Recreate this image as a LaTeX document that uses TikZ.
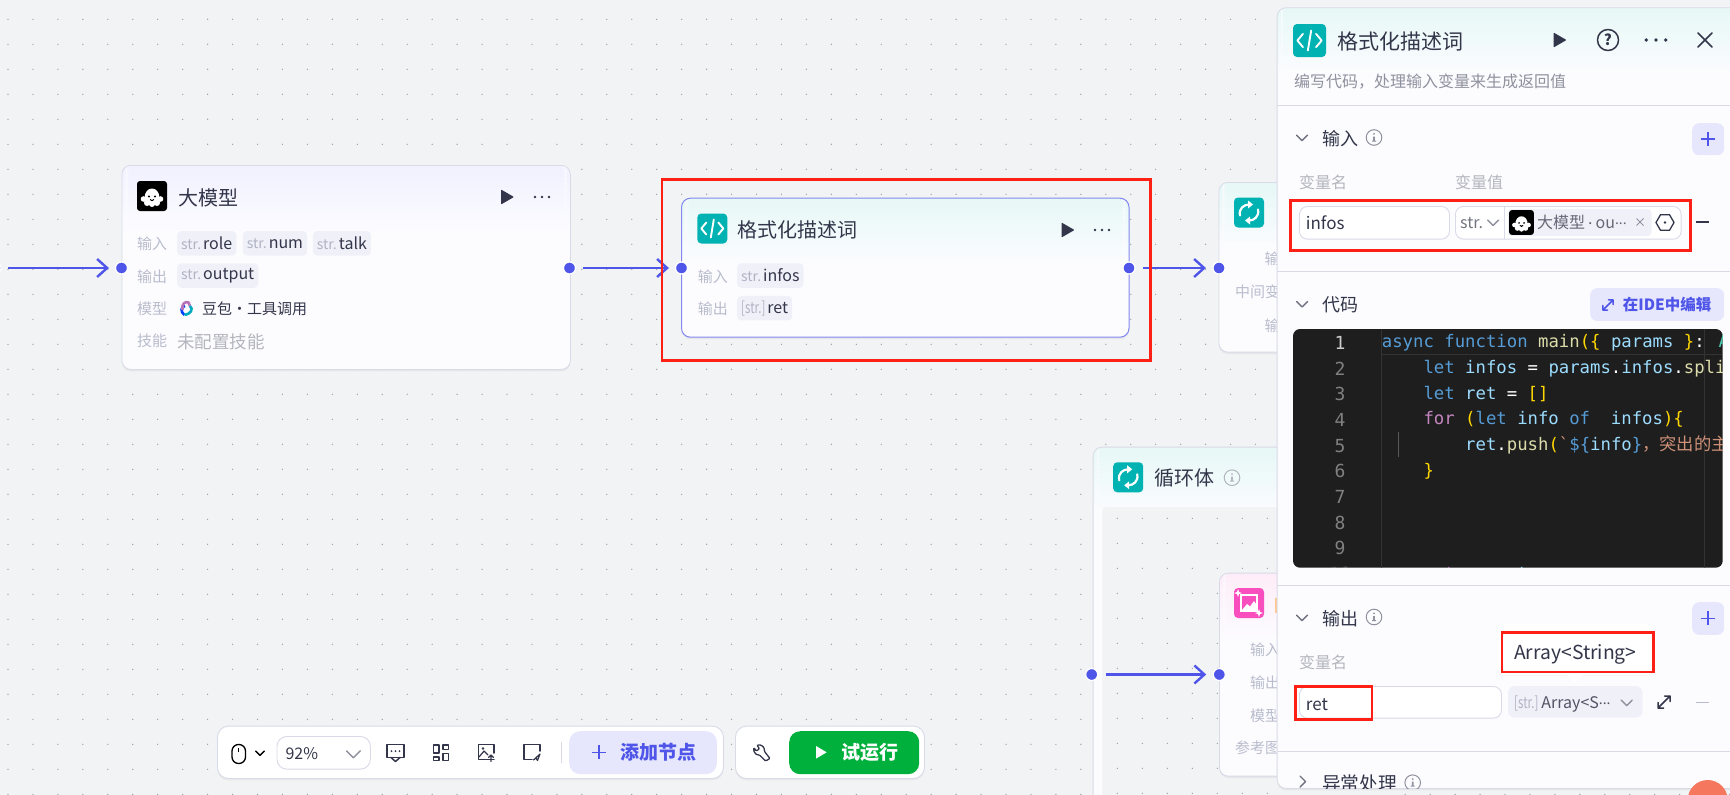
\documentclass[tikz,border=0pt]{standalone}
\usepackage{fontspec}
\usepackage{graphicx}
\setmainfont{Noto Sans CJK SC}
\newfontfamily\codefont{DejaVu Sans Mono}
\newfontfamily\cjkfont{Noto Sans CJK SC}
\usetikzlibrary{arrows.meta,shadows}
\definecolor{canvasbg}{HTML}{F2F3F5}
\definecolor{griddot}{HTML}{9C9EA6}
\definecolor{cardline}{HTML}{D9DAE8}
\definecolor{cardfill}{HTML}{FCFCFF}
\definecolor{portblue}{HTML}{4E55E8}
\definecolor{inkdark}{HTML}{33364A}
\definecolor{lblgrey}{HTML}{B9BCCC}
\definecolor{mutedgrey}{HTML}{B4B5BD}
\definecolor{subgrey}{HTML}{8F919E}
\definecolor{strgrey}{HTML}{B0B3C4}
\definecolor{chipfill}{HTML}{F0F0F8}
\definecolor{softblue}{HTML}{E6E7FD}
\definecolor{lilachead}{HTML}{F1F1FF}
\definecolor{tealhead}{HTML}{E6F8F6}
\definecolor{pinkhead}{HTML}{FDEDF8}
\definecolor{teal}{HTML}{00B2B2}
\definecolor{magenta}{HTML}{F94FBE}
\definecolor{markred}{HTML}{FF2015}
\definecolor{runfill}{HTML}{00B03C}
\definecolor{avatarfill}{HTML}{F4775E}
\definecolor{codebg}{HTML}{1E1E1E}
\definecolor{codeline}{HTML}{333333}
\newcommand{\strtag}[1]{{\fontsize{14}{14}\selectfont\textcolor{strgrey}{#1}}\hspace{2pt}}
\newcommand{\arrtag}{\scalebox{.72}[1]{\fontsize{16}{16}\selectfont\textcolor{strgrey}{[str.]}}\hspace{2pt}}
\newcommand{\mdots}{\raisebox{3.6pt}{\fontsize{14}{14}\selectfont...}}
\newcommand{\ckw}[1]{\textcolor[HTML]{569CD6}{#1}}
\newcommand{\cvr}[1]{\textcolor[HTML]{9CDCFE}{#1}}
\newcommand{\cfn}[1]{\textcolor[HTML]{DCDCAA}{#1}}
\newcommand{\cbr}[1]{\textcolor[HTML]{FFD700}{#1}}
\newcommand{\cpk}[1]{\textcolor[HTML]{C586C0}{#1}}
\newcommand{\cst}[1]{\textcolor[HTML]{CE9178}{#1}}
\newcommand{\cty}[1]{\textcolor[HTML]{4EC9B0}{#1}}
\tikzset{
  txt/.style={font=\fontsize{#1}{#1}\selectfont, text height=.88*#1, text depth=.12*#1, anchor=west, inner sep=0pt},
  lbl/.style={txt=15, text=lblgrey},
  title/.style={txt=20, text=inkdark},
  head/.style={txt=18, text=inkdark},
  muted/.style={txt=16, text=mutedgrey},
  chip/.style={fill=chipfill, rounded corners=4pt, anchor=west, inner xsep=4pt, inner ysep=0pt, minimum height=24.5pt, text=inkdark, font=\fontsize{16}{16}\selectfont},
  port/.style={shape=circle, fill=portblue, draw=white, line width=1.2pt, minimum size=12pt, inner sep=0pt},
  conn/.style={-{Straight Barb[length=10pt,width=18pt,line width=2.4pt]}, line width=2.3pt, draw=portblue},
  card/.style={draw=cardline, line width=.8pt, fill=cardfill, rounded corners=9pt, anchor=north west, inner sep=0pt,
    drop shadow={opacity=.10, shadow xshift=0pt, shadow yshift=-2pt},
    path picture={\foreach \k [evaluate=\k as \mix using 100-3*\k] in {0,...,33}
      \fill[#1!\mix!cardfill] ([yshift={-2*\k*1pt}]path picture bounding box.north west) rectangle ([yshift={-(2*\k+2.6)*1pt}]path picture bounding box.north east);}},
  field/.style={draw=cardline, line width=.9pt, fill=white, rounded corners=8pt, anchor=north west, inner sep=0pt},
  softbtn/.style={fill=softblue, rounded corners=7pt, anchor=north west, inner sep=0pt},
  redbox/.style={draw=markred, line width=2.5pt, anchor=north west, inner sep=0pt},
  sepline/.style={draw=cardline, line width=.9pt},
  codeln/.style={font=\codefont\fontsize{17.3}{17.3}\selectfont, anchor=base west, inner sep=0pt, text=white},
  lineno/.style={font=\codefont\fontsize{18}{18}\selectfont, anchor=base, inner sep=0pt, text=gray},
  ic/.style={draw=inkdark, line width=1.5pt, line cap=round, line join=round},
  play/.pic={\fill[inkdark, rounded corners=.8pt] (-6.5,-7.5) -- (6.5,0) -- (-6.5,7.5) -- cycle;},
  tridots/.pic={\fill[inkdark] (-7,0) circle (1.3) (0,0) circle (1.3) (7,0) circle (1.3);},
  vee/.pic={\draw[line width=1.4pt, line cap=round, line join=round, draw=#1] (-5.5,-2.5) -- (0,3) -- (5.5,-2.5);},
  info/.pic={\draw[draw=#1, line width=1pt] (0,0) circle (7.8);
    \fill[#1] (0,-3.6) circle (1) (-.8,-1) rectangle (.8,3.4) (-2,3) rectangle (2,4);},
  ghost/.pic={\fill[black, rounded corners=3pt] (-15,-15) rectangle (15,15);
    \fill[white] (-7.5,3) .. controls (-8,-11) and (8,-11) .. (7.5,3) -- (7.5,7) -- (-7.5,7) -- cycle;
    \fill[white] (-8.5,3) circle (2.8) (8.5,3) circle (2.8) (-5,7) circle (3) (0,8) circle (3) (5,7) circle (3);
    \fill[black] (-3,.5) circle (1.1) (3,.5) circle (1.1);
    \draw[black, line width=1pt] (-2,3.5) .. controls (-1,5) and (1,5) .. (2,3.5);},
  codeicon/.pic={\fill[teal, rounded corners=4pt] (-15,-15) rectangle (15,15);
    \draw[white, line width=1.9pt, line cap=round, line join=round] (-6,-6) -- (-11,0) -- (-6,6) (6,-6) -- (11,0) -- (6,6) (1.5,-9) -- (-1.5,9);},
  loopicon/.pic={\fill[teal, rounded corners=4pt] (-15,-15) rectangle (15,15);
    \draw[white, line width=2.2pt, line cap=round] (-9,3) .. controls (-10.5,-4) and (-5,-8) .. (0,-8);
    \draw[white, line width=2.2pt, line cap=round] (9,-3) .. controls (10.5,4) and (5,8) .. (0,8);
    \fill[white] (-1,-12) -- (4,-8) -- (-1,-4) -- cycle (1,12) -- (-4,8) -- (1,4) -- cycle;},
  pinkicon/.pic={\fill[magenta, rounded corners=4pt] (-15,-15) rectangle (15,15);
    \draw[white, line width=2.2pt] (-8,-8) rectangle (8,8);
    \fill[white] (-7,7) -- (-2,1) -- (1,3.5) -- (5,-2) -- (7,1) -- (7,7) -- cycle;
    \fill[white] (-11,-14) -- (-10,-11) -- (-7,-10) -- (-10,-9) -- (-11,-6) -- (-12,-9) -- (-15,-10) -- (-12,-11) -- cycle;
    \fill[white] (10,6) -- (11,9) -- (14,10) -- (11,11) -- (10,14) -- (9,11) -- (6,10) -- (9,9) -- cycle;},
  doubao/.pic={\draw[line width=2.6pt, draw=blue!75!cyan] (-2.5,6) .. controls (-7,3) and (-6,-3) .. (-2,-3);
    \draw[line width=2.6pt, draw=violet!55!white] (-4.5,1) .. controls (-5.5,-5) and (-2,-8) .. (1.5,-6.5) -- (3,-3);
    \draw[line width=2.6pt, draw=cyan!70!green] (3,-3) .. controls (6.5,0) and (4,5) .. (-2.5,6);},
  expand/.pic={\draw[draw=#1, line width=1.5pt, line cap=round, line join=round] (-6,6) -- (6,-6) (0.5,-6) -- (6,-6) -- (6,-.5) (-6,.5) -- (-6,6) -- (-.5,6);},
  hexa/.pic={\draw[inkdark, line width=1.3pt, line join=round] (0:9) -- (60:9) -- (120:9) -- (180:9) -- (240:9) -- (300:9) -- cycle;
    \fill[inkdark] (0,0) circle (1.3);}
}
\begin{document}
\begin{tikzpicture}[x=1pt,y=-1pt]
\useasboundingbox (0,0) rectangle (1730,795);
\fill[canvasbg] (0,0) rectangle (1730,795);
\foreach \i in {0,...,69}
  \foreach \j in {0,...,31}
    \fill[griddot] ({8+24.95*\i},{19.3+25*\j}) circle (.7);
% model card
\node[card=lilachead, minimum width=448.5pt, minimum height=204pt] (modelcard) at (121.5,165) {};
\pic at (152,196) {ghost};
\node[title] (modeltitle) at (178,198) {大模型};
\pic at (507.5,197) {play};
\pic at (542,197) {tridots};
\node[lbl] (modelin) at (137,244) {输入};
\node[lbl] (modelout) at (137,276.7) {输出};
\node[lbl] (modelkind) at (137,309) {模型};
\node[lbl] (modelskill) at (137,341) {技能};
\node[chip] (chiprole) at (177,243.3) {\strtag{str.}role};
\node[chip] (chipnum) at (242.6,243.3) {\strtag{str.}num};
\node[chip] (chiptalk) at (312.7,243.3) {\strtag{str.}talk};
\node[chip] (chipoutput) at (177,275.5) {\strtag{str.}output};
\pic at (187,309) {doubao};
\node[txt=15, text=inkdark] (doubaotext) at (202,309) {豆包・工具调用};
\node[txt=17.5, text=mutedgrey] (noskill) at (177,342) {未配置技能};
% code card
\node[card=tealhead, draw=portblue!70!white, line width=1pt, minimum width=447.5pt, minimum height=139pt] (codecard) at (681,197.7) {};
\pic at (712.3,228.5) {codeicon};
\node[title] (codetitle) at (737.5,230) {格式化描述词};
\pic at (1068,230) {play};
\pic at (1102,230) {tridots};
\node[lbl] (codein) at (697.6,276.7) {输入};
\node[lbl] (codeout) at (697.6,309) {输出};
\node[chip] (chipinfos) at (737,275.5) {\strtag{str.}infos};
\node[chip] (chipret) at (737,308.2) {\arrtag ret};
% loop node behind the panel
\node[card=tealhead, minimum width=260pt, minimum height=169.7pt] (loopcard) at (1218.5,182) {};
\pic at (1249,212.5) {loopicon};
\node[lbl] (loopin) at (1264.4,259) {输};
\node[lbl] (loopmid) at (1235,292) {中间变};
\node[lbl] (loopout) at (1264.4,325.6) {输};
% loop body
\node[card=tealhead, minimum width=300pt, minimum height=420pt] (bodyframe) at (1092.7,446.7) {};
\pic at (1128.2,477.3) {loopicon};
\node[title] (bodytitle) at (1154,478) {循环体};
\pic at (1232,477.7) {info=mutedgrey};
\fill[canvasbg, rounded corners=3pt] (1102.3,507) rectangle (1400,860);
\foreach \i in {0,...,6}
  \foreach \j in {0,...,11}
    \fill[griddot] ({1117.3+25*\i},{518.3+25*\j}) circle (.7);
\node[card=pinkhead, minimum width=260pt, minimum height=203pt] (imagecard) at (1219,572.7) {};
\pic at (1249,603) {pinkicon};
\fill[orange!45!white] (1275,598) rectangle (1277,613);
\node[lbl] (imagein) at (1250,650) {输入};
\node[lbl] (imageout) at (1250,683) {输出};
\node[lbl] (imagekind) at (1250,715.7) {模型};
\node[lbl] (imageref) at (1235,747.7) {参考图};
% ports and connectors
\node[port] (p0) at (-5,268) {};
\node[port] (p1) at (121.5,268) {};
\node[port] (p2) at (569.5,268) {};
\node[port] (p3) at (681.5,268) {};
\node[port] (p4) at (1129,268) {};
\node[port] (p5) at (1219,268) {};
\node[port] (p6) at (1091.7,674.5) {};
\node[port] (p7) at (1219.3,674.5) {};
\path [conn, shorten <=6.6pt, shorten >=6pt] (p0) edge (p1);
\path [conn, shorten <=6.5pt, shorten >=6pt] (p2) edge (p3);
\path [conn, shorten <=7.5pt, shorten >=6.5pt] (p4) edge (p5);
\path [conn, shorten <=7.5pt, shorten >=6.5pt] (p6) edge (p7);
% side panel
\node[card=tealhead, minimum width=520pt, minimum height=780.7pt] (panel) at (1276.7,7.3) {};
\pic[scale=1.1] at (1309.5,40.5) {codeicon};
\node[txt=21, text=inkdark] (paneltitle) at (1337.7,42) {格式化描述词};
\pic at (1560,40) {play};
\draw[ic] (1608,40) circle (10.5);
\node[txt=15, text=inkdark, anchor=center, font=\fontsize{15}{15}\selectfont\bfseries] (helpmark) at (1608,40) {?};
\pic[scale=1.4] at (1656,40) {tridots};
\draw[ic, line width=1.7pt] (1698,33) -- (1712,47) (1712,33) -- (1698,47);
\node[txt=16, text=subgrey] (panelsub) at (1294,81) {编写代码，处理输入变量来生成返回值};
\draw[sepline] (1277,105.3) -- (1730,105.3);
\pic at (1302,137.7) {vee=inkdark!70!white};
\node[head] (inhead) at (1322,139) {输入};
\pic at (1374,137.5) {info=subgrey};
\node[softbtn, minimum width=32pt, minimum height=32pt] (inadd) at (1692,123) {};
\draw[portblue, line width=1.5pt] (1701,139) -- (1715,139) (1708,132) -- (1708,146);
\node[muted] (invarname) at (1299,182) {变量名};
\node[muted] (invarvalue) at (1455,182) {变量值};
\node[field, minimum width=150pt, minimum height=32.7pt] (infield) at (1299,206) {};
\node[txt=17, text=inkdark] (infostext) at (1305.7,223) {infos};
\node[field, minimum width=225.7pt, minimum height=32.7pt] (insel) at (1455,206) {};
\draw[cardline, line width=.9pt] (1504,206) -- (1504,238.7);
\node[txt=16, text=subgrey!80!black] (instr) at (1460,222.5) {str.};
\pic at (1493,222.5) {vee=subgrey};
\fill[chipfill, rounded corners=4pt] (1508,209) rectangle (1651.7,236);
\pic[scale=.83] at (1521.5,222.5) {ghost};
\node[txt=16, text=inkdark!75!white] (intag) at (1537,222.5) {大模型\hspace{3pt}\raisebox{3.6pt}{.}\hspace{3pt}ou\mdots};
\draw[subgrey, line width=1pt] (1636.5,218.5) -- (1643.5,225.5) (1643.5,218.5) -- (1636.5,225.5);
\pic at (1665,222.5) {hexa};
\draw[inkdark, line width=1.3pt] (1696,222) -- (1708.7,222);
\draw[sepline] (1277,271) -- (1730,271);
\pic at (1302,304) {vee=inkdark!70!white};
\node[head] (codehead) at (1322,305) {代码};
\node[softbtn, minimum width=134pt, minimum height=32.7pt] (idebtn) at (1590,288) {};
\pic[scale=.85] at (1608,305) {expand=portblue};
\node[txt=15.5, text=portblue, font=\fontsize{15.5}{15.5}\selectfont\bfseries] (idetext) at (1622.7,304.5) {在IDE中编辑};
\fill[codebg, rounded corners=7pt] (1293,329) rectangle (1722.7,567.7);
\begin{scope}
\clip[rounded corners=7pt] (1293,329) rectangle (1722.7,567.7);
\draw[codeline, line width=.8pt] (1381.7,329) -- (1381.7,567.7);
\draw[codeline, line width=.8pt] (1704,329) -- (1704,567.7);
\draw[codeline, line width=.8pt] (1381.7,354) -- (1722.7,354);
\draw[gray!70!black, line width=.8pt] (1398.7,431.7) -- (1398.7,456.7);
\node[lineno, text=white!80!black] (ln1) at (1340,349.3) {1};
\node[lineno] (ln2) at (1340,375) {2};
\node[lineno] (ln3) at (1340,400.7) {3};
\node[lineno] (ln4) at (1340,426.4) {4};
\node[lineno] (ln5) at (1340,452.1) {5};
\node[lineno] (ln6) at (1340,477.8) {6};
\node[lineno] (ln7) at (1340,503.5) {7};
\node[lineno] (ln8) at (1340,529.2) {8};
\node[lineno] (ln9) at (1340,554.9) {9};
\node[lineno] (ln10) at (1340,580.6) {10};
\node[codeln] (code1) at (1381.7,347.7) {\ckw{async function} \cfn{main}\cbr{(\{} \cvr{params} \cbr{\}}\textcolor{white}{:} \cty{A}};
\node[codeln] (code2) at (1423.3,373.4) {\ckw{let} \cvr{infos} = \cvr{params}.\cvr{infos}.\cfn{spli}};
\node[codeln] (code3) at (1423.3,399.1) {\ckw{let} \cvr{ret} = \cbr{[]}};
\node[codeln] (code4) at (1423.3,424.8) {\cpk{for} \cbr{(}\ckw{let} \cvr{info} \ckw{of}\ \ \cvr{infos}\cbr{)\{}};
\node[codeln] (code5) at (1465,450.5) {\cvr{ret}.\cfn{push}\cbr{(}\cst{`}\ckw{\$\{}\cvr{info}\ckw{\}}\cst{{\cjkfont ，突出的主}}};
\node[codeln] (code6) at (1423.3,476.2) {\cbr{\}}};
\node[codeln] (code10) at (1423.3,579) {\cpk{return} \cvr{ret}};
\end{scope}
\draw[sepline] (1277,585.3) -- (1730,585.3);
\pic at (1302,617.7) {vee=inkdark!70!white};
\node[head] (outhead) at (1322,619) {输出};
\pic at (1374,617) {info=subgrey};
\node[softbtn, minimum width=32pt, minimum height=32.7pt] (outadd) at (1692,602) {};
\draw[portblue, line width=1.5pt] (1701,618.3) -- (1715,618.3) (1708,611.3) -- (1708,625.3);
\node[muted] (outvarname) at (1299,662) {变量名};
\node[field, minimum width=202pt, minimum height=31.7pt] (outfield) at (1299,686) {};
\node[txt=17, text=inkdark] (rettext) at (1305.7,704) {ret};
\fill[chipfill, rounded corners=7pt] (1508,686) rectangle (1642.7,717.7);
\node[txt=16, text=inkdark!85!white] (outtype) at (1514,702.5) {\arrtag\hspace{1pt}Array<S\mdots};
\pic at (1626.7,702.7) {vee=subgrey};
\pic at (1664,702) {expand=inkdark};
\draw[lblgrey, line width=1.3pt] (1696,702.7) -- (1708.7,702.7);
\node[anchor=north west, fill=white, rounded corners=7pt, minimum width=156pt, minimum height=51pt, inner sep=0pt, drop shadow={opacity=.07, shadow xshift=0pt, shadow yshift=-1pt}] (tipbox) at (1497,624) {};
\fill[white] (1566,674) -- (1575,683) -- (1584,674) -- cycle;
\node[txt=19.3, text=inkdark] (tiptext) at (1514,652) {Array<String>};
\draw[sepline] (1277,751.7) -- (1730,751.7);
\begin{scope}
\clip (1277,752) rectangle (1730,788);
\draw[line width=1.4pt, line cap=round, line join=round, draw=inkdark!70!white] (1300,776) -- (1305.5,781.5) -- (1300,787);
\node[txt=18.7, text=inkdark] (errhead) at (1322,783) {异常处理};
\pic at (1412.7,782.7) {info=subgrey};
\end{scope}
% red marks
\node[redbox, minimum width=488.5pt, minimum height=181pt] (markcard) at (660.5,178) {};
\node[redbox, minimum width=400pt, minimum height=50pt] (markin) at (1289,199) {};
\node[redbox, minimum width=151.3pt, minimum height=39.7pt] (marktip) at (1500.7,631) {};
\node[redbox, minimum width=76.7pt, minimum height=33pt] (markret) at (1294,685) {};
% toolbar
\node[anchor=north west, draw=cardline, line width=.9pt, fill=white, rounded corners=11pt, minimum width=506pt, minimum height=52.3pt, inner sep=0pt, drop shadow={opacity=.08, shadow xshift=0pt, shadow yshift=-2pt}] (toolleft) at (217,725.7) {};
\node[anchor=north west, draw=cardline, line width=.9pt, fill=white, rounded corners=11pt, minimum width=189pt, minimum height=52.3pt, inner sep=0pt, drop shadow={opacity=.08, shadow xshift=0pt, shadow yshift=-2pt}] (toolright) at (735,725.7) {};
\draw[ic, draw=black, line width=1.3pt, rounded corners=6.5pt] (232,744.5) rectangle (245.5,763.5);
\draw[black, line width=1.2pt] (238.7,748) -- (238.7,752);
\pic[scale=.8] at (260,753) {vee=black};
\node[field, minimum width=93.5pt, minimum height=32.7pt, rounded corners=10pt] (zoombox) at (276.5,736) {};
\node[txt=16, text=inkdark] (zoomtext) at (285.4,753.5) {92\%};
\pic[scale=1.25] at (353.4,754) {vee=subgrey};
\draw[ic] (387,744.5) rectangle (404,757.5);
\draw[ic] (391,757.5) -- (395.5,761.5) -- (400,757.5);
\fill[inkdark] (391.5,751) circle (1) (395.5,751) circle (1) (399.5,751) circle (1);
\draw[ic] (433.5,745) rectangle (439,753) (443,745) rectangle (448.5,749.5) (433.5,757) rectangle (439,760.5) (443,753.5) rectangle (448.5,760.5);
\draw[ic] (494,759.5) -- (478.5,759.5) -- (478.5,744.5) -- (494,744.5) -- (494,753);
\draw[ic, line width=1.2pt] (479,757) -- (484,751) -- (488,755);
\fill[inkdark] (483,748.5) circle (1.3);
\draw[ic, line width=1.3pt] (491,761.5) -- (491,755) (488.5,757.5) -- (491,755) -- (493.5,757.5);
\draw[ic] (532,759.5) -- (524,759.5) -- (524,744.5) -- (540,744.5) -- (540,751);
\draw[ic, line width=1.2pt] (533.5,760) -- (540,754) -- (537.5,760.5) -- (536,758) -- cycle;
\draw[cardline, line width=.8pt] (561.5,741.7) -- (561.5,763);
\node[softbtn, minimum width=147.7pt, minimum height=43pt, rounded corners=11pt] (addbtn) at (569,731) {};
\draw[portblue, line width=1.4pt] (592,752.3) -- (606,752.3) (599,745.3) -- (599,759.3);
\node[txt=19, text=portblue, font=\fontsize{19}{19}\selectfont\bfseries] (addtext) at (620,752.3) {添加节点};
\draw[ic, line width=1.3pt, rounded corners=1pt] (757,745) -- (759.5,749) -- (756,751) -- (754,747.5) -- (753.5,750.5) -- (756,754.5) -- (759.5,755) -- (765.5,761) -- (770,758.5) -- (764.5,751.5) -- (764,747.5) -- (761,745) -- cycle;
\node[anchor=north west, fill=runfill, rounded corners=11pt, minimum width=130pt, minimum height=43pt, inner sep=0pt] (runbtn) at (789,731) {};
\fill[white] (816,746) -- (826.7,752.3) -- (816,758.6) -- cycle;
\node[txt=19, text=white, font=\fontsize{19}{19}\selectfont\bfseries] (runtext) at (841,752.3) {试运行};
% avatar corner
\fill[avatarfill] (1707.7,800) circle (20);
\end{tikzpicture}
\end{document}
